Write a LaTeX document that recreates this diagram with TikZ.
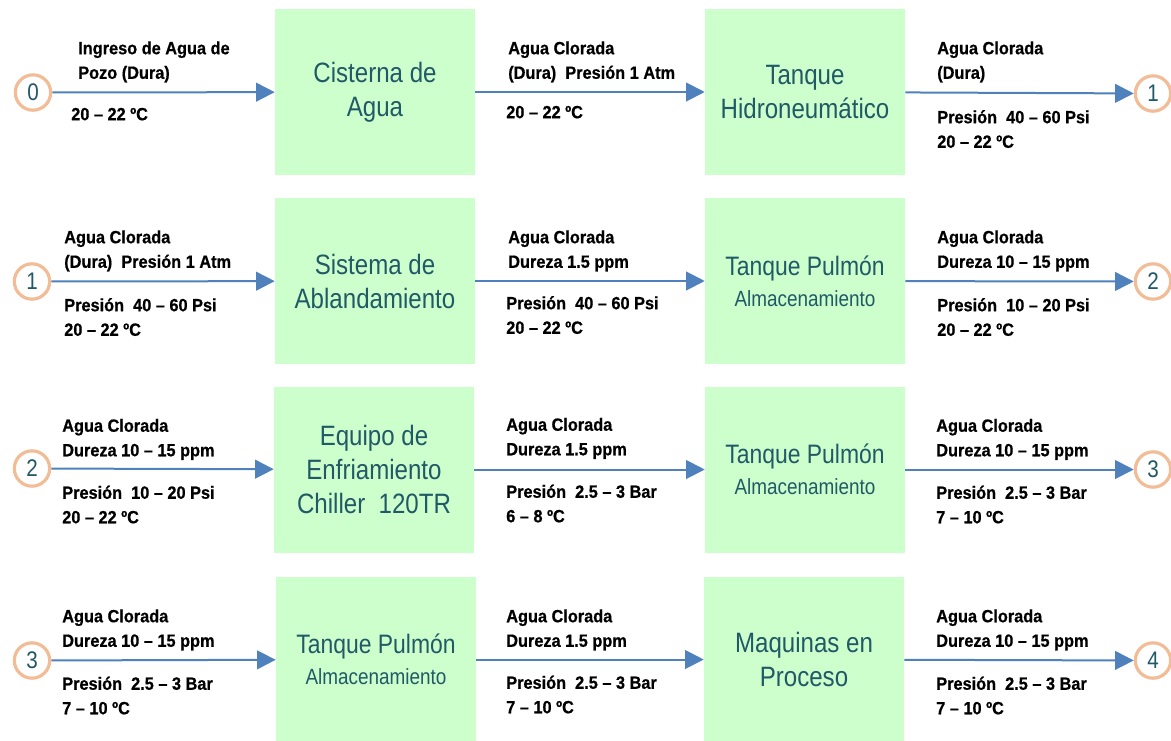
\documentclass[tikz,border=0pt]{standalone}
\usepackage{fontspec}
\newfontfamily\boxfont[FakeStretch=0.86]{Liberation Sans}
\newfontfamily\lblfont[FakeStretch=0.92,FakeBold=0.6]{Liberation Sans}
\usetikzlibrary{arrows.meta}
\definecolor{boxfill}{HTML}{CCFFCC}
\definecolor{boxtext}{HTML}{215967}
\definecolor{flowblue}{HTML}{4F81BD}
\definecolor{ringpeach}{HTML}{F2BC96}

\begin{document}
\begin{tikzpicture}[x=0.75pt,y=-0.75pt,
  stage/.style={fill=boxfill, draw=none, minimum width=150pt, minimum height=124.5pt,
    inner sep=0pt, align=center, text=boxtext, font=\boxfont\fontsize{21}{25.5}\selectfont},
  tank/.style={stage, font=\boxfont\fontsize{20}{23.5}\selectfont},
  port/.style={circle, draw=ringpeach, line width=2.4pt, fill=white, minimum size=26.5pt,
    inner sep=0pt, text=boxtext, font=\boxfont\fontsize{18}{18}\selectfont},
  flow/.style={draw=flowblue, line width=1.5pt, -{Triangle[length=14pt,width=14pt]}},
  lbl/.style={anchor=north west, inner sep=0pt, align=left,
    font=\lblfont\bfseries\fontsize{13.3}{18.4}\selectfont},
]
\useasboundingbox[fill=white] (0,0) rectangle (1171,740);

% ---------- row 1 ----------
\node[port] (p0) at (33,92.5) {0};
\node[stage] (cist) at (375,92) {Cisterna de\\Agua};
\node[stage] (hidro) at (805,92) {Tanque\\Hidroneumático};
\node[port] (p1a) at (1153,93.5) {1};
\draw[flow] (p0) -- (cist);
\draw[flow] (cist) -- (hidro);
\draw[flow] (hidro) -- (p1a);
\node[lbl] (t1a) at (78,36.8) {\strut Ingreso de Agua de\\Pozo (Dura)};
\node[lbl] (t1b) at (71,102.8) {\strut 20 – 22 ºC};
\node[lbl] (t1c) at (508,36.8) {\strut Agua Clorada\\(Dura)\ \ Presión 1 Atm};
\node[lbl] (t1d) at (506,100.8) {\strut 20 – 22 ºC};
\node[lbl] (t1e) at (937,36.8) {\strut Agua Clorada\\(Dura)};
\node[lbl] (t1f) at (937,105.8) {\strut Presión\ \ 40 – 60 Psi\\20 – 22 ºC};

% ---------- row 2 ----------
\node[port] (p1b) at (32,281.5) {1};
\node[stage] (abl) at (375,281) {Sistema de\\Ablandamiento};
\node[tank] (pul1) at (805,281) {Tanque Pulmón\\{\fontsize{16.5}{23.5}\selectfont Almacenamiento}};
\node[port] (p2a) at (1153,281.5) {2};
\draw[flow] (p1b) -- (abl);
\draw[flow] (abl) -- (pul1);
\draw[flow] (pul1) -- (p2a);
\node[lbl] (t2a) at (64,225.8) {\strut Agua Clorada\\(Dura)\ \ Presión 1 Atm};
\node[lbl] (t2b) at (64,293.8) {\strut Presión\ \ 40 – 60 Psi\\20 – 22 ºC};
\node[lbl] (t2c) at (508,225.8) {\strut Agua Clorada\\Dureza 1.5 ppm};
\node[lbl] (t2d) at (506,291.8) {\strut Presión\ \ 40 – 60 Psi\\20 – 22 ºC};
\node[lbl] (t2e) at (937,225.8) {\strut Agua Clorada\\Dureza 10 – 15 ppm};
\node[lbl] (t2f) at (937,293.8) {\strut Presión\ \ 10 – 20 Psi\\20 – 22 ºC};

% ---------- row 3 ----------
\node[port] (p2b) at (32,468.5) {2};
\node[stage] (chill) at (374,469.5) {Equipo de\\Enfriamiento\\Chiller\ \ 120TR};
\node[tank] (pul2) at (805,469.5) {Tanque Pulmón\\{\fontsize{16.5}{23.5}\selectfont Almacenamiento}};
\node[port] (p3a) at (1153,469.5) {3};
\draw[flow] (p2b) -- (chill);
\draw[flow] (chill) -- (pul2);
\draw[flow] (pul2) -- (p3a);
\node[lbl] (t3a) at (62,414.3) {\strut Agua Clorada\\Dureza 10 – 15 ppm};
\node[lbl] (t3b) at (62,481.3) {\strut Presión\ \ 10 – 20 Psi\\20 – 22 ºC};
\node[lbl] (t3c) at (506,413.3) {\strut Agua Clorada\\Dureza 1.5 ppm};
\node[lbl] (t3d) at (506,480.3) {\strut Presión\ \ 2.5 – 3 Bar\\6 – 8 ºC};
\node[lbl] (t3e) at (936,414.3) {\strut Agua Clorada\\Dureza 10 – 15 ppm};
\node[lbl] (t3f) at (936,481.3) {\strut Presión\ \ 2.5 – 3 Bar\\7 – 10 ºC};

% ---------- row 4 ----------
\node[port] (p3b) at (32,660.5) {3};
\node[tank] (pul3) at (376,659.5) {Tanque Pulmón\\{\fontsize{16.5}{23.5}\selectfont Almacenamiento}};
\node[stage] (maq) at (804,659.5) {Maquinas en\\Proceso};
\node[port] (p4) at (1153,660.5) {4};
\draw[flow] (p3b) -- (pul3);
\draw[flow] (pul3) -- (maq);
\draw[flow] (maq) -- (p4);
\node[lbl] (t4a) at (62,604.8) {\strut Agua Clorada\\Dureza 10 – 15 ppm};
\node[lbl] (t4b) at (62,672.3) {\strut Presión\ \ 2.5 – 3 Bar\\7 – 10 ºC};
\node[lbl] (t4c) at (506,604.8) {\strut Agua Clorada\\Dureza 1.5 ppm};
\node[lbl] (t4d) at (506,671.3) {\strut Presión\ \ 2.5 – 3 Bar\\7 – 10 ºC};
\node[lbl] (t4e) at (936,604.8) {\strut Agua Clorada\\Dureza 10 – 15 ppm};
\node[lbl] (t4f) at (936,672.3) {\strut Presión\ \ 2.5 – 3 Bar\\7 – 10 ºC};
\end{tikzpicture}
\end{document}
